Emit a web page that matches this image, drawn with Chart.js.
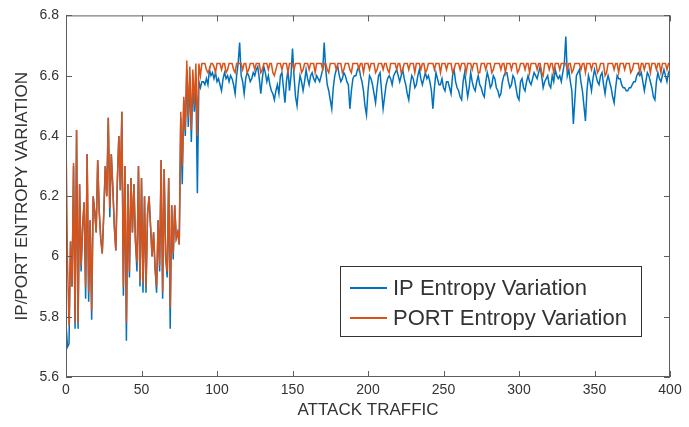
<!DOCTYPE html>
<html>
<head>
<meta charset="utf-8">
<script src="https://cdn.jsdelivr.net/npm/chart.js@4.4.1/dist/chart.umd.min.js"></script>
<style>
  html, body { margin: 0; padding: 0; background: #fff; }
  #wrap { width: 689px; height: 427px; }
</style>
</head>
<body>
<div id="wrap"><canvas id="chart" width="689" height="427"></canvas></div>
<script>
// values, one per attack-traffic step (0..400)
const ipEntropy = [
  5.78,5.70,5.71,6.05,5.90,6.30,5.76,6.42,5.76,6.24,
  5.95,6.10,6.18,5.86,6.34,5.85,6.12,5.79,6.20,6.15,
  6.08,6.32,6.15,6.06,6.01,6.14,6.30,6.20,6.46,6.13,
  6.34,6.23,6.10,6.02,6.25,6.40,6.22,6.48,5.87,6.30,
  5.72,6.24,5.93,6.26,6.08,6.24,6.05,5.95,6.30,5.90,
  6.26,5.88,6.20,5.88,6.14,6.20,6.10,6.00,6.08,5.96,
  5.88,6.12,5.95,6.32,5.86,6.29,6.00,5.93,6.26,5.76,
  6.17,5.99,6.17,6.06,6.08,6.04,6.46,6.24,6.52,6.40,
  6.62,6.43,6.60,6.38,6.58,6.48,6.60,6.21,6.58,6.56,
  6.58,
  6.58,6.57,6.59,6.57,6.62,6.60,6.61,6.59,6.61,6.58,
  6.59,6.57,6.55,6.59,6.61,6.59,6.60,6.58,6.60,6.59,
  6.57,6.54,6.60,6.64,6.71,6.60,6.58,6.54,6.59,6.61,
  6.60,6.58,6.59,6.61,6.60,6.62,6.63,6.59,6.54,6.59,
  6.63,6.61,6.58,6.60,6.57,6.55,6.54,6.52,6.55,6.57,
  6.54,6.60,6.61,6.56,6.51,6.58,6.62,6.55,6.60,6.69,
  6.60,6.53,6.50,6.56,6.60,6.58,6.55,6.58,6.62,6.59,
  6.57,6.60,6.61,6.59,6.58,6.60,6.59,6.58,6.60,6.62,
  6.71,6.62,6.57,6.55,6.52,6.49,6.56,6.60,6.62,6.63,
  6.60,6.58,6.59,6.61,6.60,6.58,6.57,6.49,6.55,6.59,
  6.60,6.60,6.62,6.63,6.60,6.58,6.55,6.50,6.47,6.55,
  6.60,6.59,6.57,6.54,6.51,6.56,6.60,6.61,6.55,6.49,
  6.53,6.57,6.59,6.60,6.59,6.57,6.60,6.61,6.62,6.60,
  6.58,6.60,6.62,6.59,6.57,6.54,6.52,6.57,6.60,6.59,
  6.56,6.57,6.60,6.62,6.59,6.57,6.59,6.61,6.59,6.60,
  6.58,6.55,6.49,6.56,6.61,6.59,6.57,6.57,6.59,6.56,
  6.55,6.58,6.58,6.56,6.54,6.60,6.62,6.58,6.56,6.55,
  6.53,6.52,6.58,6.61,6.57,6.53,6.56,6.61,6.58,6.56,
  6.55,6.58,6.60,6.57,6.56,6.54,6.53,6.58,6.61,6.59,
  6.56,6.57,6.60,6.59,6.56,6.55,6.53,6.54,6.58,6.60,
  6.61,6.61,6.58,6.56,6.57,6.60,6.59,6.56,6.53,6.52,
  6.58,6.59,6.56,6.55,6.58,6.60,6.58,6.57,6.59,6.61,
  6.60,6.59,6.61,6.63,6.60,6.56,6.58,6.59,6.60,6.57,
  6.56,6.60,6.58,6.62,6.60,6.59,6.60,6.58,6.61,6.64,
  6.73,6.60,6.62,6.58,6.55,6.44,6.52,6.60,6.61,6.62,
  6.58,6.55,6.50,6.45,6.55,6.60,6.58,6.55,6.59,6.62,
  6.60,6.58,6.57,6.60,6.61,6.57,6.54,6.58,6.60,6.58,
  6.56,6.53,6.51,6.56,6.60,6.59,6.59,6.57,6.56,6.56,
  6.55,6.55,6.56,6.56,6.57,6.58,6.58,6.60,6.61,6.60,
  6.61,6.58,6.55,6.58,6.61,6.60,6.58,6.56,6.53,6.52,
  6.58,6.61,6.59,6.58,6.60,6.62,6.60,6.58,6.61,6.62
];

const portEntropy = [
  6.41,5.98,5.77,6.05,5.90,6.31,5.78,6.42,5.78,6.24,
  5.97,6.10,6.18,5.90,6.34,5.88,6.12,5.82,6.20,6.15,
  6.08,6.32,6.15,6.06,6.01,6.14,6.30,6.20,6.46,6.16,
  6.34,6.23,6.10,6.02,6.25,6.40,6.22,6.48,5.90,6.30,
  5.78,6.24,5.95,6.26,6.08,6.24,6.05,5.98,6.30,5.92,
  6.26,5.91,6.20,5.90,6.14,6.20,6.10,6.00,6.08,5.96,
  5.90,6.12,5.97,6.32,5.88,6.29,6.00,5.95,6.26,5.83,
  6.17,6.01,6.17,6.06,6.08,6.04,6.48,6.30,6.53,6.42,
  6.65,6.46,6.63,6.42,6.62,6.50,6.64,6.40,6.64,6.60,
  6.64,
  6.64,6.64,6.62,6.61,6.62,6.64,6.64,6.63,6.61,6.64,
  6.64,6.64,6.62,6.64,6.64,6.61,6.62,6.64,6.64,6.64,
  6.62,6.61,6.64,6.64,6.64,6.64,6.62,6.64,6.64,6.61,
  6.62,6.64,6.64,6.64,6.62,6.64,6.64,6.64,6.61,6.62,
  6.64,6.64,6.64,6.62,6.64,6.64,6.61,6.60,6.62,6.64,
  6.64,6.64,6.62,6.64,6.64,6.64,6.61,6.64,6.64,6.64,
  6.62,6.64,6.64,6.64,6.64,6.61,6.62,6.64,6.64,6.64,
  6.62,6.64,6.64,6.64,6.61,6.64,6.64,6.64,6.64,6.62,
  6.64,6.64,6.62,6.61,6.64,6.64,6.64,6.64,6.62,6.64,
  6.64,6.64,6.61,6.62,6.64,6.64,6.64,6.62,6.61,6.64,
  6.64,6.64,6.64,6.62,6.64,6.64,6.61,6.64,6.64,6.64,
  6.62,6.64,6.64,6.64,6.61,6.62,6.64,6.64,6.64,6.62,
  6.64,6.64,6.62,6.61,6.64,6.64,6.64,6.64,6.62,6.64,
  6.64,6.61,6.62,6.64,6.64,6.64,6.62,6.64,6.64,6.64,
  6.61,6.64,6.64,6.64,6.62,6.64,6.64,6.61,6.62,6.64,
  6.64,6.64,6.64,6.62,6.64,6.64,6.64,6.61,6.64,6.64,
  6.64,6.62,6.64,6.64,6.64,6.61,6.62,6.64,6.64,6.64,
  6.62,6.64,6.64,6.64,6.61,6.64,6.64,6.64,6.62,6.64,
  6.64,6.64,6.61,6.61,6.64,6.64,6.64,6.62,6.64,6.64,
  6.64,6.61,6.62,6.64,6.64,6.64,6.64,6.62,6.64,6.64,
  6.61,6.64,6.64,6.64,6.62,6.64,6.64,6.64,6.61,6.62,
  6.64,6.64,6.64,6.62,6.64,6.64,6.61,6.64,6.64,6.64,
  6.64,6.62,6.64,6.64,6.61,6.60,6.64,6.64,6.64,6.62,
  6.64,6.64,6.61,6.64,6.64,6.64,6.62,6.64,6.64,6.64,
  6.64,6.62,6.64,6.64,6.61,6.62,6.64,6.64,6.64,6.64,
  6.62,6.64,6.64,6.61,6.64,6.64,6.64,6.62,6.64,6.64,
  6.64,6.61,6.62,6.64,6.64,6.64,6.60,6.61,6.64,6.64,
  6.64,6.64,6.62,6.64,6.64,6.61,6.64,6.64,6.64,6.62,
  6.64,6.64,6.64,6.61,6.62,6.64,6.64,6.64,6.64,6.61,
  6.64,6.64,6.62,6.64,6.64,6.64,6.61,6.64,6.64,6.64,
  6.62,6.64,6.64,6.61,6.64,6.64,6.64,6.62,6.64,6.64
];

const seriesNames = ["IP Entropy Variation", "PORT Entropy Variation"];
const xTicks = [0, 50, 100, 150, 200, 250, 300, 350, 400];
const yTicks = [5.6, 5.8, 6.0, 6.2, 6.4, 6.6, 6.8];

const BLUE = "#0072BD";
const ORANGE = "#D95319";
const INK = "#333333";
const FONT = "'Liberation Sans', Arial, sans-serif";

// MATLAB-like box: frame, inward ticks on all four sides, legend inside the axes
const boxPlugin = {
  id: "matlabBox",
  afterDatasetsDraw(chart) {
    const { ctx, chartArea: a, scales } = chart;
    ctx.save();
    ctx.strokeStyle = "#5e5e5e";
    ctx.lineWidth = 1;
    ctx.strokeRect(a.left + 0.5, a.top + 0.5, a.right - a.left - 1, a.bottom - a.top - 1);
    ctx.beginPath();
    xTicks.forEach((v) => {
      const px = Math.round(scales.x.getPixelForValue(v)) + 0.5;
      ctx.moveTo(px, a.bottom); ctx.lineTo(px, a.bottom - 6);
      ctx.moveTo(px, a.top); ctx.lineTo(px, a.top + 6);
    });
    yTicks.forEach((v) => {
      const py = Math.round(scales.y.getPixelForValue(v)) + 0.5;
      ctx.moveTo(a.left, py); ctx.lineTo(a.left + 6, py);
      ctx.moveTo(a.right, py); ctx.lineTo(a.right - 6, py);
    });
    ctx.stroke();

    // legend
    const lx = 340, ly = 266, lw = 301, lh = 70;
    ctx.fillStyle = "#fff";
    ctx.fillRect(lx, ly, lw, lh);
    ctx.strokeStyle = "#333";
    ctx.strokeRect(lx + 0.5, ly + 0.5, lw, lh);
    ctx.font = "22px " + FONT;
    ctx.textBaseline = "middle";
    ctx.fillStyle = INK;
    [BLUE, ORANGE].forEach((col, i) => {
      const y = ly + 22 + i * 30;
      ctx.strokeStyle = col;
      ctx.lineWidth = 1.8;
      ctx.beginPath();
      ctx.moveTo(lx + 10, y); ctx.lineTo(lx + 47, y);
      ctx.stroke();
      ctx.fillText(seriesNames[i], lx + 53, y + 1);
    });
    ctx.restore();
  }
};

new Chart(document.getElementById("chart"), {
  type: "line",
  data: {
    datasets: [
      {
        label: seriesNames[0],
        data: ipEntropy.map((v, i) => ({ x: i, y: v })),
        borderColor: BLUE,
        borderWidth: 1.5,
        pointRadius: 0,
        tension: 0,
        order: 1
      },
      {
        label: seriesNames[1],
        data: portEntropy.map((v, i) => ({ x: i, y: v })),
        borderColor: ORANGE,
        borderWidth: 1.5,
        pointRadius: 0,
        tension: 0,
        order: 0
      }
    ]
  },
  options: {
    responsive: false,
    animation: false,
    devicePixelRatio: 1,
    layout: { padding: { top: 11, right: 19, left: 0, bottom: 0 } },
    plugins: { legend: { display: false }, tooltip: { enabled: false } },
    scales: {
      x: {
        type: "linear",
        min: 0,
        max: 400,
        afterBuildTicks: (s) => { s.ticks = xTicks.map((v) => ({ value: v })); },
        afterFit: (s) => { s.height = 50; },
        grid: { display: false, drawTicks: false },
        border: { display: false },
        ticks: { color: INK, font: { family: FONT, size: 14 }, padding: 5, maxRotation: 0 },
        title: {
          display: true,
          text: "ATTACK TRAFFIC",
          color: INK,
          font: { family: FONT, size: 17 },
          padding: { top: 0, bottom: 6 }
        }
      },
      y: {
        min: 5.6,
        max: 6.8,
        afterBuildTicks: (s) => { s.ticks = yTicks.map((v) => ({ value: v })); },
        afterFit: (s) => { s.width = 66; },
        grid: { display: false, drawTicks: false },
        border: { display: false },
        ticks: {
          color: INK,
          font: { family: FONT, size: 14 },
          padding: 7,
          callback: (v) => String(+Number(v).toFixed(1))
        },
        title: {
          display: true,
          text: "IP/PORT ENTROPY VARIATION",
          color: INK,
          font: { family: FONT, size: 17 },
          padding: { top: 12, bottom: 0 }
        }
      }
    }
  },
  plugins: [boxPlugin]
});
</script>
</body>
</html>
